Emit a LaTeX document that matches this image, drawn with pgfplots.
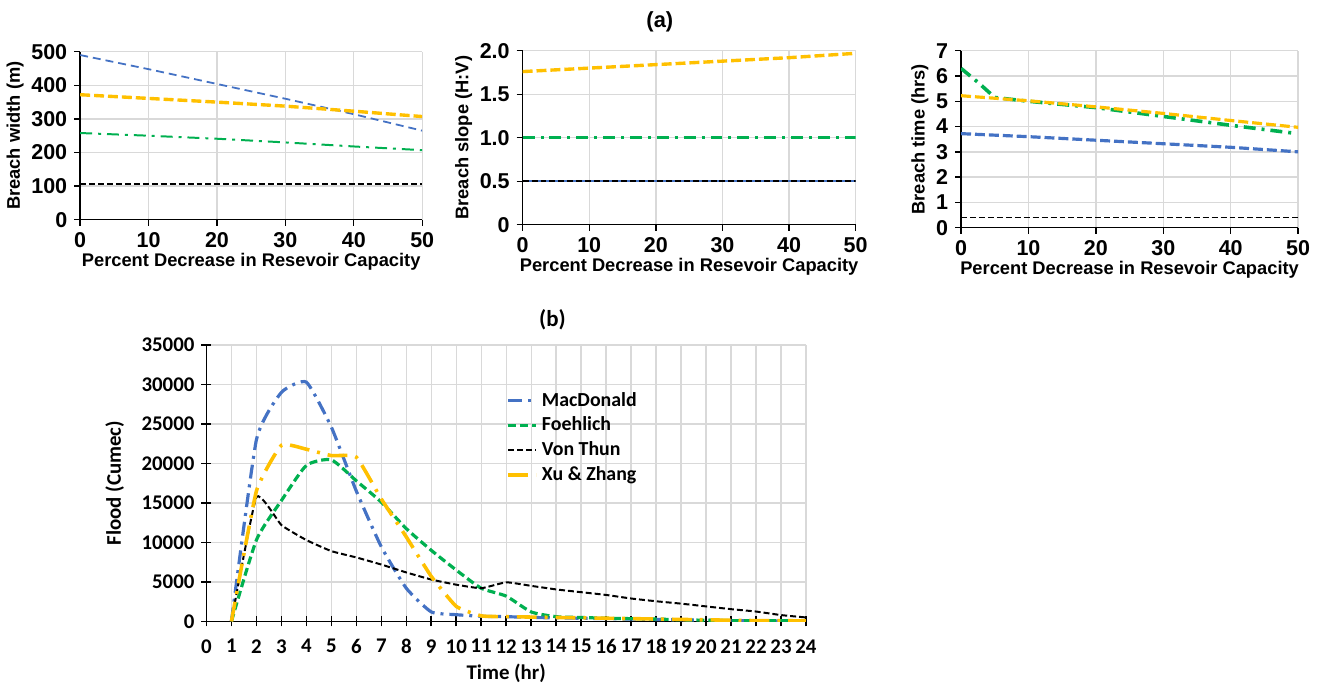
\documentclass[border=0pt]{standalone}
\usepackage{fontspec}
\setmainfont{Liberation Sans}
\newfontfamily\calib{Carlito}
\usepackage{pgfplots}
\pgfplotsset{compat=1.18}

\definecolor{mblue}{HTML}{4472C4}
\definecolor{morange}{HTML}{FFC000}
\definecolor{mgreen}{HTML}{00B050}
\definecolor{gridgray}{HTML}{D9D9D9}

\pgfplotsset{
  topax/.style={
    scale only axis,
    axis lines=left, axis line style={-, black, line width=0.7pt},
    grid=major, grid style={gridgray, line width=0.7pt},
    xmin=0, xmax=50, xtick={0,10,...,50}, ymin=0,
    tick align=outside, major tick length=3pt,
    tick style={black, line width=0.7pt},
    ticklabel style={font=\bfseries\fontsize{10.8}{12}\selectfont},
    label style={font=\bfseries\fontsize{9.2}{11}\selectfont},
    xlabel={Percent Decrease in Resevoir Capacity},
    xlabel style={yshift=4pt},
    ylabel style={yshift=-3pt},
    /pgf/number format/assume math mode=true,
  },
}

\begin{document}
\begin{tikzpicture}
\path (0pt,0pt) rectangle (660pt,342pt);

\node[font=\bfseries\fontsize{11}{13}\selectfont] at (328pt,331pt) {(a)};
\node[font=\calib\bfseries\fontsize{11.5}{13}\selectfont] at (274pt,181pt) {(b)};

% breach width
\begin{axis}[topax, at={(36.5pt,231.5pt)}, anchor=south west,
  width=172pt, height=84.5pt, ymax=500, ytick={0,100,...,500},
  ylabel={Breach width (m)}]
\addplot[mblue, line width=0.9pt, dash pattern=on 4pt off 2.5pt] coordinates
  {(0,490)(10,448)(20,404)(30,360)(40,314)(50,265)};
\addplot[morange, line width=1.7pt, dash pattern=on 5pt off 2pt] coordinates
  {(0,372)(10,361)(20,350)(30,338)(40,323)(50,307)};
\addplot[mgreen, line width=1pt, dash pattern=on 6pt off 3pt on 1.5pt off 3pt] coordinates
  {(0,258)(10,250)(20,241)(30,230)(40,218)(50,207)};
\addplot[black, line width=1pt, dash pattern=on 3pt off 1.5pt] coordinates
  {(0,105)(50,105)};
\end{axis}

% breach slope
\begin{axis}[topax, at={(259pt,229pt)}, anchor=south west,
  width=167.5pt, height=87.5pt, ymax=2, ytick={0,0.5,1,1.5,2},
  yticklabels={0,0.5,1.0,1.5,2.0},
  ylabel={Breach slope (H:V)}]
\addplot[mblue, line width=0.8pt] coordinates {(0,0.5)(50,0.5)};
\addplot[morange, line width=1.7pt, dash pattern=on 5pt off 2pt] coordinates
  {(0,1.76)(10,1.80)(20,1.84)(30,1.88)(40,1.92)(50,1.97)};
\addplot[mgreen, line width=1.8pt, dash pattern=on 6pt off 3pt on 1.5pt off 3pt] coordinates
  {(0,1)(50,1)};
\addplot[black, line width=1pt, dash pattern=on 3pt off 1.5pt] coordinates
  {(0,0.5)(50,0.5)};
\end{axis}

% breach time
\begin{axis}[topax, at={(479.5pt,227.5pt)}, anchor=south west,
  width=169.5pt, height=89pt, ymax=7, ytick={0,1,...,7},
  ylabel={Breach time (hrs)}]
\addplot[mblue, line width=1.6pt, dash pattern=on 5pt off 2pt] coordinates
  {(0,3.72)(10,3.60)(20,3.46)(30,3.32)(40,3.18)(50,3.00)};
\addplot[mgreen, line width=1.8pt, dash pattern=on 6pt off 3pt on 1.5pt off 3pt] coordinates
  {(0,6.3)(2.5,5.75)(5,5.15)(10,5.0)(20,4.75)(30,4.4)(40,4.05)(49,3.75)};
\addplot[morange, line width=1.6pt, dash pattern=on 5pt off 2pt] coordinates
  {(0,5.22)(10,5.02)(20,4.78)(30,4.52)(40,4.24)(50,3.97)};
\addplot[black, line width=0.9pt, dash pattern=on 3pt off 1.5pt] coordinates
  {(0,0.4)(50,0.4)};
\end{axis}

% flood hydrographs
\begin{axis}[at={(100pt,29.5pt)}, anchor=south west, scale only axis,
  width=301.5pt, height=139pt,
  axis lines=left, axis line style={-, black, line width=0.8pt},
  grid=major, grid style={gridgray, line width=0.7pt},
  xmin=0, xmax=24, xtick={0,1,...,24},
  ymin=0, ymax=35000, ytick={0,5000,...,35000},
  tick align=center, major tick length=5pt,
  tick style={black, line width=0.8pt},
  ticklabel style={font=\calib\bfseries\fontsize{10.5}{12}\selectfont},
  xticklabel style={yshift=-3pt},
  label style={font=\calib\bfseries\fontsize{10.5}{12}\selectfont},
  /pgf/number format/assume math mode=true,
  /pgf/number format/set thousands separator={},
  scaled y ticks=false,
  xlabel={Time (hr)}, xlabel style={yshift=2pt},
  ylabel={Flood (Cumec)}, ylabel style={yshift=2pt},
  legend style={at={(rel axis cs:0.49,0.86)}, anchor=north west, draw=none, fill=none,
    font=\calib\bfseries\fontsize{10}{12}\selectfont, row sep=0pt},
  legend cell align=left,
  legend image code/.code={\draw[#1] (0pt,0pt) -- (14pt,0pt);},
]
\addplot[mblue, line width=1.6pt, smooth, tension=0.3,
  dash pattern=on 7pt off 3pt on 1.5pt off 3pt] coordinates
  {(1,0)(2,23000)(3,29000)(4,30300)(5,24600)(6,16500)(7,9450)(8,4200)(9,1200)(10,850)
   (11,650)(12,600)(13,500)(14,450)(15,400)(16,350)(17,300)(18,250)(19,200)(20,150)
   (21,100)(22,100)(23,50)(24,0)};
\addlegendentry{MacDonald}
\addplot[mgreen, line width=1.6pt, smooth, tension=0.35,
  dash pattern=on 4pt off 2pt] coordinates
  {(1,0)(2,10300)(3,15300)(4,19750)(5,20450)(6,17800)(7,15100)(8,11750)(9,9000)(10,6500)
   (11,4200)(12,3200)(13,1200)(14,600)(15,500)(16,400)(17,350)(18,300)(19,200)(20,150)
   (21,100)(22,100)(23,100)(24,100)};
\addlegendentry{Foehlich}
\addplot[black, line width=1pt, smooth, tension=0.25,
  dash pattern=on 3pt off 1.5pt] coordinates
  {(1,0)(2,15750)(3,12200)(4,10300)(5,8900)(6,8100)(7,7200)(8,6200)(9,5300)(10,4650)
   (11,4200)(12,4950)(13,4500)(14,4050)(15,3700)(16,3350)(17,2900)(18,2550)(19,2250)
   (20,1900)(21,1550)(22,1250)(23,800)(24,500)};
\addlegendentry{Von Thun}
\addplot[morange, line width=1.8pt, smooth, tension=0.25,
  dash pattern=on 10pt off 4pt on 1.5pt off 4pt] coordinates
  {(1,0)(2,16500)(3,22300)(4,21800)(5,21000)(6,20800)(7,15500)(8,10700)(9,5700)(10,1900)
   (11,700)(12,600)(13,550)(14,500)(15,450)(16,400)(17,350)(18,300)(19,250)(20,200)
   (21,150)(22,100)(23,100)(24,50)};
\addlegendentry{Xu \& Zhang}
\end{axis}
\end{tikzpicture}
\end{document}
